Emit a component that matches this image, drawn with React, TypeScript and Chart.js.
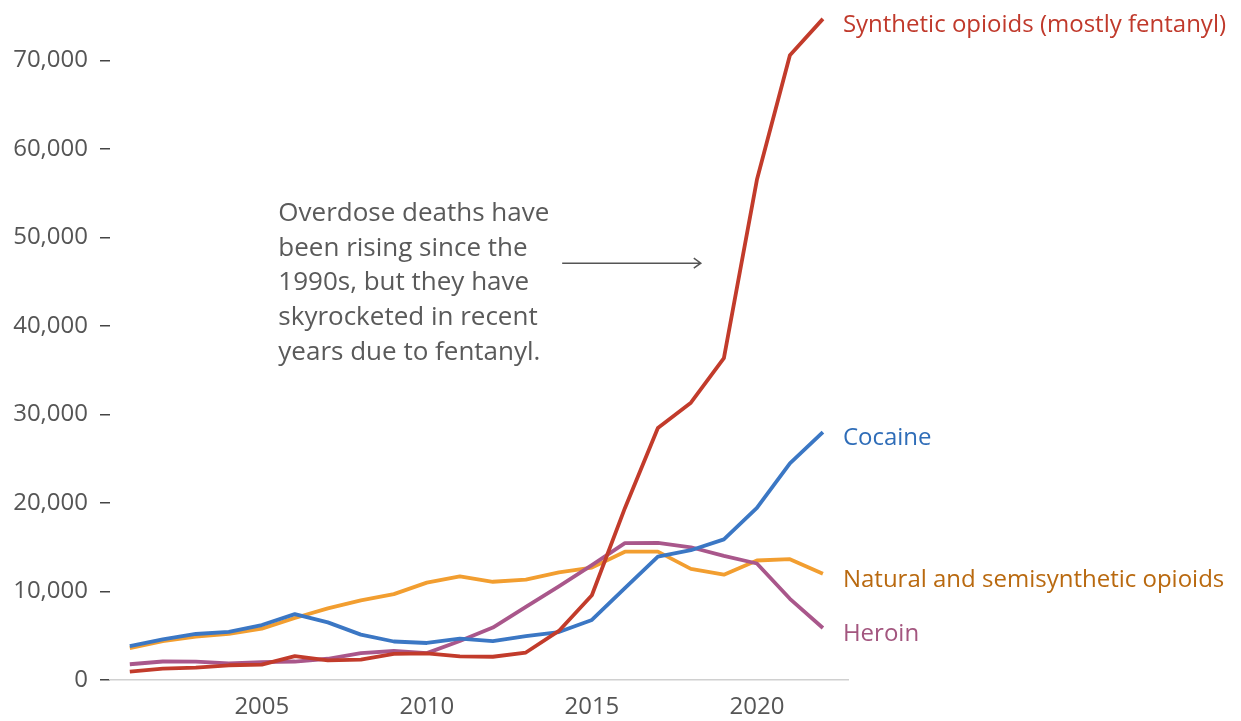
import React, { useEffect, useRef } from "react";
import { Chart, registerables } from "chart.js";

Chart.register(...registerables);

const years = [2001, 2002, 2003, 2004, 2005, 2006, 2007, 2008, 2009, 2010, 2011, 2012, 2013, 2014, 2015, 2016, 2017, 2018, 2019, 2020, 2021, 2022];
const synthetic = [957, 1295, 1400, 1664, 1742, 2707, 2213, 2306, 2946, 3007, 2666, 2628, 3105, 5544, 9580, 19413, 28466, 31335, 36359, 56516, 70601, 74700];
const cocaine = [3833, 4599, 5199, 5443, 6208, 7448, 6512, 5129, 4350, 4183, 4681, 4404, 4944, 5415, 6784, 10375, 13942, 14666, 15883, 19447, 24486, 28000];
const heroin = [1779, 2089, 2080, 1878, 2009, 2088, 2399, 3041, 3278, 3036, 4397, 5925, 8257, 10574, 12989, 15469, 15482, 14996, 14019, 13165, 9173, 5871];
const natural = [3600, 4400, 4900, 5200, 5800, 7000, 8100, 9000, 9700, 11000, 11700, 11100, 11350, 12150, 12700, 14500, 14500, 12550, 11900, 13500, 13650, 12000];

const seriesNames = ["Synthetic opioids (mostly fentanyl)", "Cocaine", "Heroin", "Natural and semisynthetic opioids"];
const lineColors = ["#c23b2b", "#3b77c4", "#a9578b", "#f29e30"];
const labelColors = ["#c0392b", "#2f6db8", "#a3567f", "#b9690f"];

const xTicks = [2005, 2010, 2015, 2020];
const yTicks = [0, 10000, 20000, 30000, 40000, 50000, 60000, 70000];

const noteLines = [
  "Overdose deaths have",
  "been rising since the",
  "1990s, but they have",
  "skyrocketed in recent",
  "years due to fentanyl.",
];

const FONT = "'Open Sans', Lato, sans-serif";

export default function App() {
  const ref = useRef<HTMLCanvasElement | null>(null);

  useEffect(() => {
    document.body.style.margin = "0";
    const canvas = ref.current;
    if (!canvas) return;
    const seriesValues = [synthetic, cocaine, heroin, natural];

    const annotate = {
      id: "annotate",
      afterDatasetsDraw(chart: any) {
        const { ctx } = chart;
        const xs = chart.scales.x;
        const ys = chart.scales.y;
        ctx.save();
        // end labels
        ctx.font = `24px ${FONT}`;
        ctx.textAlign = "left";
        ctx.textBaseline = "middle";
        seriesValues.forEach((vals, i) => {
          const last = vals.length - 1;
          const px = xs.getPixelForValue(years[last]) + 20;
          const py = ys.getPixelForValue(vals[last]) + 6;
          ctx.fillStyle = labelColors[i];
          ctx.fillText(seriesNames[i], px, py);
        });
        // note
        ctx.font = `26px ${FONT}`;
        ctx.fillStyle = "#5a5a5a";
        const nx = xs.getPixelForValue(2005.5);
        const ny = ys.getPixelForValue(52700);
        noteLines.forEach((l, i) => ctx.fillText(l, nx, ny + i * 34.7));
        // arrow
        const ax1 = xs.getPixelForValue(2014.1);
        const ax2 = xs.getPixelForValue(2018.3);
        const ay = ys.getPixelForValue(47100);
        ctx.strokeStyle = "#555";
        ctx.lineWidth = 1.5;
        ctx.beginPath();
        ctx.moveTo(ax1, ay);
        ctx.lineTo(ax2, ay);
        ctx.moveTo(ax2 - 7, ay - 5);
        ctx.lineTo(ax2, ay);
        ctx.lineTo(ax2 - 7, ay + 5);
        ctx.stroke();
        ctx.restore();
      },
    };

    const chart = new Chart(canvas, {
      type: "line",
      data: {
        datasets: seriesValues.map((vals, i) => ({
          label: seriesNames[i],
          data: vals.map((v, j) => ({ x: years[j], y: v })),
          borderColor: lineColors[i],
          borderWidth: 3.8,
          pointRadius: 0,
          tension: 0,
          borderJoinStyle: "round" as const,
          borderCapStyle: "butt" as const,
          clip: 6,
        })),
      },
      options: {
        animation: false,
        responsive: false,
        maintainAspectRatio: false,
        devicePixelRatio: 1,
        layout: { padding: { left: 0, right: 393, top: 7, bottom: 0 } },
        plugins: { legend: { display: false }, tooltip: { enabled: false } },
        scales: {
          x: {
            type: "linear",
            min: 2000.4,
            max: 2022.76,
            afterBuildTicks: (s: any) => {
              s.ticks = xTicks.map((v) => ({ value: v }));
            },
            afterFit: (s: any) => {
              s.height = 41;
            },
            grid: { display: false, drawTicks: false },
            border: { display: true, color: "#d0d0d0", width: 1.5 },
            ticks: {
              color: "#555",
              padding: 13,
              maxRotation: 0,
              autoSkip: false,
              font: { family: FONT, size: 24 },
              callback: (v: any) => String(v),
            },
          },
          y: {
            min: 0,
            max: 74800,
            afterBuildTicks: (s: any) => {
              s.ticks = yTicks.map((v) => ({ value: v }));
            },
            afterFit: (s: any) => {
              s.width = 110;
            },
            grid: { display: true, drawOnChartArea: false, drawTicks: true, tickLength: 10, color: "#444", lineWidth: 1.5 },
            border: { display: false },
            ticks: {
              color: "#555",
              padding: 12,
              font: { family: FONT, size: 24, lineHeight: 0.5 },
              callback: (v: any) => Number(v).toLocaleString("en-US"),
            },
          },
        },
      },
      plugins: [annotate],
    });
    return () => chart.destroy();
  }, []);

  return (
    <div style={{ width: 1241, height: 721, background: "#fff" }}>
      <canvas ref={ref} width={1241} height={721} style={{ display: "block" }} />
    </div>
  );
}
